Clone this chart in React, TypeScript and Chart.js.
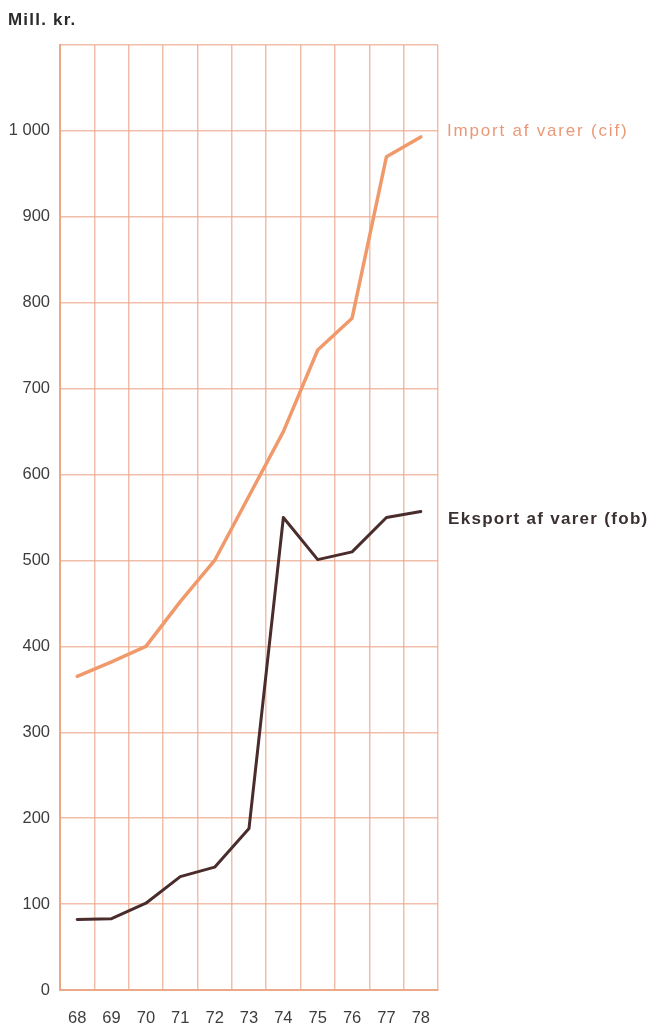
import React, { useEffect, useRef } from "react";
import { Chart, registerables } from "chart.js";

Chart.register(...registerables);

const years = ["68", "69", "70", "71", "72", "73", "74", "75", "76", "77", "78"];
const importValues = [365, 382, 400, 452, 500, 575, 650, 745, 782, 970, 993];
const eksportValues = [82, 83, 101, 132, 143, 188, 550, 501, 510, 550, 557];
const yTickMax = 1100;
const yTickStep = 100;
const unitLabel = "Mill. kr.";
const importLabel = "Import af varer (cif)";
const eksportLabel = "Eksport af varer (fob)";

const FONT = "'Liberation Sans', Arial, Helvetica, sans-serif";

const annotations = {
  id: "annotations",
  afterDraw(chart: any) {
    const { ctx, chartArea, scales } = chart;
    const y = scales.y;
    ctx.save();
    ctx.textBaseline = "middle";
    ctx.textAlign = "left";
    ctx.font = `bold 17px ${FONT}`;
    (ctx as any).letterSpacing = "1.2px";
    ctx.fillStyle = "#2a2a2a";
    ctx.fillText(unitLabel, 8, 20);
    ctx.font = `17px ${FONT}`;
    (ctx as any).letterSpacing = "1.8px";
    ctx.fillStyle = "#e89a78";
    ctx.fillText(importLabel, chartArea.right + 9, y.getPixelForValue(1000));
    ctx.font = `bold 17px ${FONT}`;
    (ctx as any).letterSpacing = "1.3px";
    ctx.fillStyle = "#3a3030";
    ctx.fillText(eksportLabel, chartArea.right + 10, y.getPixelForValue(548));
    ctx.restore();
  },
};

export default function App() {
  const ref = useRef<HTMLCanvasElement | null>(null);
  useEffect(() => {
    if (!ref.current) return;
    const chart = new Chart(ref.current, {
      type: "line",
      data: {
        labels: years,
        datasets: [
          {
            label: importLabel,
            data: importValues,
            borderColor: "#f09a6c",
            borderWidth: 3.5,
            pointRadius: 0,
            tension: 0,
            borderJoinStyle: "round",
            borderCapStyle: "round",
          },
          {
            label: eksportLabel,
            data: eksportValues,
            borderColor: "#4a2c2c",
            borderWidth: 3,
            pointRadius: 0,
            tension: 0,
            borderJoinStyle: "round",
            borderCapStyle: "round",
          },
        ],
      },
      options: {
        animation: false,
        responsive: false,
        maintainAspectRatio: false,
        layout: { padding: { left: 0, right: 214, top: 45, bottom: 0 } },
        plugins: { legend: { display: false }, tooltip: { enabled: false } },
        scales: {
          x: {
            type: "category",
            offset: true,
            grid: {
              offset: true,
              color: "rgba(236,170,140,0.75)",
              lineWidth: 1.5,
              drawTicks: false,
            },
            border: { color: "#eba987", width: 2 },
            ticks: {
              padding: 19,
              color: "#3d3d3d",
              font: { family: FONT, size: 16.5 },
            },
            afterFit(scale: any) {
              scale.height = 34;
            },
          },
          y: {
            min: 0,
            max: yTickMax,
            ticks: {
              stepSize: yTickStep,
              padding: 10,
              color: "#3d3d3d",
              font: { family: FONT, size: 16.5 },
              callback: (v: any) => {
                const n = Number(v);
                if (n === yTickMax) return "";
                return n >= 1000 ? "1 000" : String(n);
              },
            },
            grid: {
              color: "rgba(236,170,140,0.75)",
              lineWidth: 1.5,
              drawTicks: false,
            },
            border: { color: "#eba987", width: 2 },
            afterFit(scale: any) {
              scale.width = 60;
            },
          },
        },
      },
      plugins: [annotations],
    });
    return () => chart.destroy();
  }, []);
  return (
    <div style={{ position: "fixed", left: 0, top: 0, width: 652, height: 1024, background: "#fff" }}>
      <canvas ref={ref} width={652} height={1024} style={{ width: 652, height: 1024, display: "block" }} />
    </div>
  );
}
